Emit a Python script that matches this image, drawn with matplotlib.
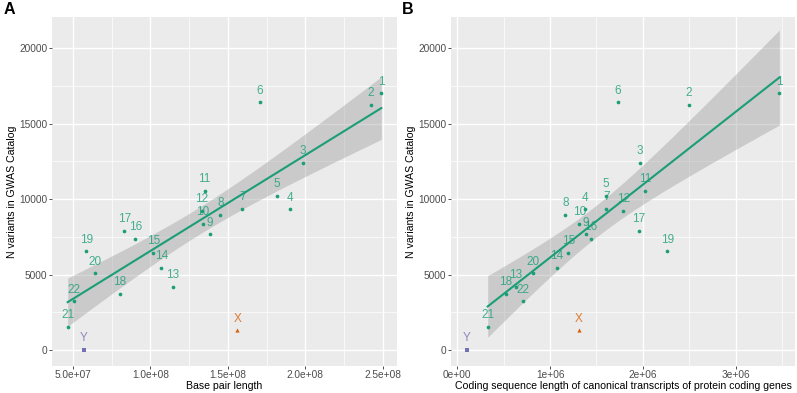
import numpy as np
import matplotlib
matplotlib.use("Agg")
import matplotlib.pyplot as plt
from matplotlib.ticker import FixedLocator, FuncFormatter

plt.rcParams['font.family'] = ['Liberation Sans', 'DejaVu Sans']

chroms = ['1', '2', '3', '4', '5', '6', '7', '8', '9', '10', '11', '12',
          '13', '14', '15', '16', '17', '18', '19', '20', '21', '22', 'X', 'Y']
bp_length = [248956422, 242193529, 198295559, 190214555, 181538259, 170805979,
             159345973, 145138636, 138394717, 133797422, 135086622, 133275309,
             114364328, 107043718, 101991189, 90338345, 83257441, 80373285,
             58617616, 64444167, 46709983, 50818468, 156040895, 57227415]
cds_length = [3.473e6, 2.50e6, 1.965e6, 1.376e6, 1.598e6, 1.732e6,
              1.606e6, 1.164e6, 1.383e6, 1.315e6, 2.026e6, 1.789e6,
              0.632e6, 1.07e6, 1.196e6, 1.437e6, 1.958e6, 0.525e6,
              2.263e6, 0.812e6, 0.327e6, 0.711e6, 1.307e6, 0.100e6]
n_variants = [17000, 16220, 12410, 9320, 10200, 16400,
              9370, 8950, 7670, 8370, 10540, 9230,
              4210, 5460, 6450, 7380, 7890, 3720,
              6550, 5090, 1540, 3240, 1300, 20]

GREEN = '#1B9E77'
ORANGE = '#D95F02'
PURPLE = '#7570B3'
T_CRIT = 2.086  # t quantile 0.975, df = 20

fig = plt.figure(figsize=(7.97, 3.93), dpi=100)
W, H = 797, 393
axA = fig.add_axes([52 / W, 1 - 366 / H, (397 - 52) / W, (366 - 17) / H])
axB = fig.add_axes([451 / W, 1 - 366 / H, (795 - 451) / W, (366 - 17) / H])


def panel(ax, xs, xlabel, xticks, fmt, minor):
    xs = np.array(xs, dtype=float)
    ys = np.array(n_variants, dtype=float)
    auto = np.array([c not in ('X', 'Y') for c in chroms])
    xa, ya = xs[auto], ys[auto]
    b, a = np.polyfit(xa, ya, 1)
    n = len(xa)
    resid = ya - (a + b * xa)
    s = np.sqrt(np.sum(resid ** 2) / (n - 2))
    xm = xa.mean()
    sxx = np.sum((xa - xm) ** 2)
    xg = np.linspace(xa.min(), xa.max(), 80)
    yg = a + b * xg
    se = s * np.sqrt(1 / n + (xg - xm) ** 2 / sxx)
    ax.fill_between(xg, yg - T_CRIT * se, yg + T_CRIT * se, color='#999999',
                    alpha=0.4, lw=0, zorder=2)
    ax.plot(xg, yg, color=GREEN, lw=1.5, zorder=3)

    for c, x, y in zip(chroms, xs, ys):
        if c == 'X':
            col, mk, ms = ORANGE, '^', 9
        elif c == 'Y':
            col, mk, ms = PURPLE, 's', 7
        else:
            col, mk, ms = GREEN, 'o', 7
        ax.scatter([x], [y], s=ms, marker=mk, color=col, lw=0, zorder=4)
        ax.annotate(c, (x, y), xytext=(0, 8.4), textcoords='offset points',
                    ha='center', va='center', fontsize=8.5, color=col,
                    alpha=0.8, zorder=5)

    rng = xs.max() - xs.min()
    ax.set_xlim(xs.min() - 0.05 * rng, xs.max() + 0.05 * rng)
    ax.set_ylim(-1050, 22050)
    ax.set_facecolor('#EBEBEB')
    for sp in ax.spines.values():
        sp.set_visible(False)
    ax.xaxis.set_major_locator(FixedLocator(xticks))
    ax.xaxis.set_major_formatter(FuncFormatter(fmt))
    ax.xaxis.set_minor_locator(FixedLocator(minor))
    ax.yaxis.set_major_locator(FixedLocator([0, 5000, 10000, 15000, 20000]))
    ax.yaxis.set_minor_locator(FixedLocator([2500, 7500, 12500, 17500]))
    ax.grid(which='major', color='white', lw=1.0, zorder=0)
    ax.grid(which='minor', color='white', lw=0.5, zorder=0)
    ax.set_axisbelow(True)
    ax.tick_params(which='major', length=2.2, width=0.6, color='#333333',
                   labelcolor='#4D4D4D', labelsize=7.3, pad=1.0)
    ax.tick_params(which='minor', length=0)
    ax.set_xlabel(xlabel, fontsize=7.6, color='black', labelpad=0.5)
    ax.set_ylabel('N variants in GWAS Catalog', fontsize=7.6, color='black',
                  labelpad=1.5)


panel(axA, bp_length, 'Base pair length',
      [5e7, 1e8, 1.5e8, 2e8, 2.5e8],
      lambda v, p: '%.1fe+%02d' % (v / 10 ** int(np.floor(np.log10(v))),
                                   int(np.floor(np.log10(v)))),
      [7.5e7, 1.25e8, 1.75e8, 2.25e8])
panel(axB, cds_length,
      'Coding sequence length of canonical transcripts of protein coding genes',
      [0, 1e6, 2e6, 3e6],
      lambda v, p: '0e+00' if v == 0 else '%de+06' % round(v / 1e6),
      [5e5, 1.5e6, 2.5e6, 3.5e6])

fig.text(4 / W, 1 - 9 / H, 'A', fontsize=11.5, fontweight='bold', va='center', ha='left')
fig.text(402 / W, 1 - 9 / H, 'B', fontsize=11.5, fontweight='bold', va='center', ha='left')

fig.savefig('out.png', dpi=100)
